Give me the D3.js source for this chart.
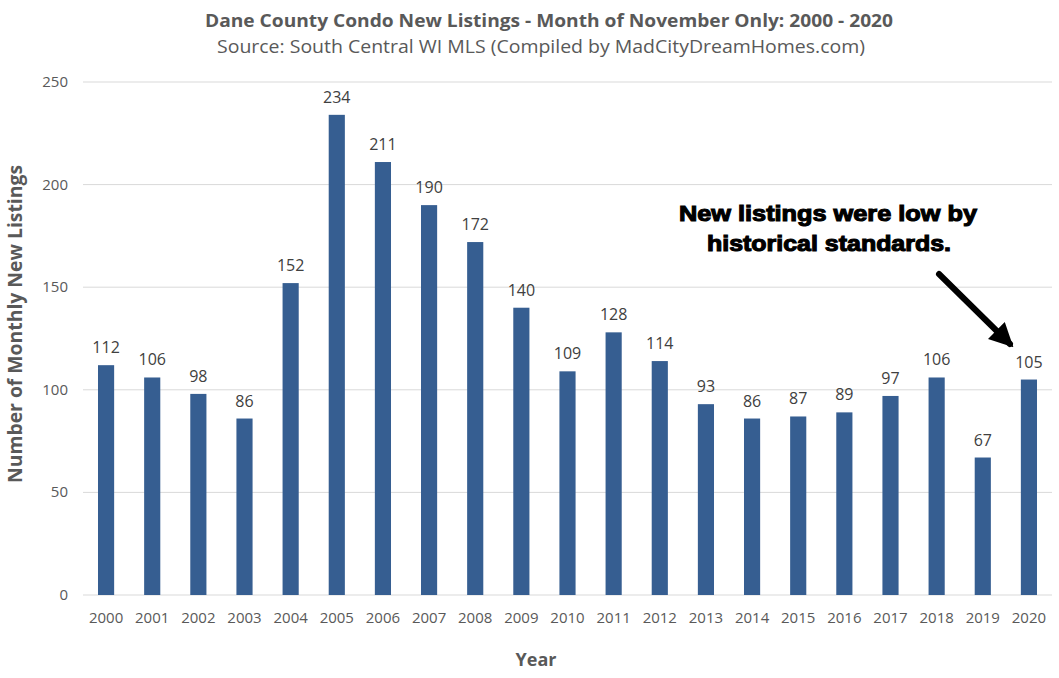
<!DOCTYPE html>
<html>
<head>
<meta charset="utf-8">
<script src="https://cdn.jsdelivr.net/npm/d3@7"></script>
<style>
  body { margin: 0; background: #fff; }
  svg { font-family: "Open Sans", "DejaVu Sans", sans-serif; }
</style>
</head>
<body>
<div id="chart"></div>
<script>
const years = ["2000","2001","2002","2003","2004","2005","2006","2007","2008","2009","2010",
               "2011","2012","2013","2014","2015","2016","2017","2018","2019","2020"];
const listings = [112,106,98,86,152,234,211,190,172,140,109,128,114,93,86,87,89,97,106,67,105];
const yTicks = [0,50,100,150,200,250];

const width = 1059, height = 678;
const margin = { top: 82, right: 7, bottom: 83, left: 83 };

const svg = d3.select("#chart").append("svg")
  .attr("width", width).attr("height", height);

const x = d3.scaleBand()
  .domain(years)
  .range([margin.left, width - margin.right])
  .paddingInner(0.65)
  .paddingOuter(0.325);

const y = d3.scaleLinear()
  .domain([0, 250])
  .range([height - margin.bottom, margin.top]);

// gridlines
svg.append("g")
  .selectAll("line")
  .data(yTicks)
  .join("line")
    .attr("x1", margin.left)
    .attr("x2", width - margin.right)
    .attr("y1", d => y(d))
    .attr("y2", d => y(d))
    .attr("stroke", "#d9d9d9")
    .attr("stroke-width", 1);

// y tick labels
svg.append("g")
  .selectAll("text")
  .data(yTicks)
  .join("text")
    .attr("x", 68)
    .attr("y", d => y(d) + 5)
    .attr("text-anchor", "end")
    .attr("font-size", "15px")
    .attr("fill", "#595959")
    .text(d => d);

// bars
svg.append("g")
  .selectAll("rect")
  .data(listings)
  .join("rect")
    .attr("x", (d, i) => x(years[i]))
    .attr("y", d => y(d))
    .attr("width", x.bandwidth())
    .attr("height", d => y(0) - y(d))
    .attr("fill", "#365e91");

// value labels
svg.append("g")
  .selectAll("text")
  .data(listings)
  .join("text")
    .attr("x", (d, i) => x(years[i]) + x.bandwidth() / 2)
    .attr("y", d => y(d) - 12)
    .attr("text-anchor", "middle")
    .attr("font-size", "16px")
    .attr("fill", "#404040")
    .text(d => d);

// x tick labels
svg.append("g")
  .selectAll("text")
  .data(years)
  .join("text")
    .attr("x", d => x(d) + x.bandwidth() / 2)
    .attr("y", y(0) + 28)
    .attr("text-anchor", "middle")
    .attr("font-size", "15px")
    .attr("fill", "#595959")
    .text(d => d);

// titles
svg.append("text")
  .attr("x", 549).attr("y", 27)
  .attr("text-anchor", "middle")
  .attr("font-size", "18px")
  .attr("font-weight", "bold")
  .attr("fill", "#595959")
  .attr("textLength", 688)
  .attr("lengthAdjust", "spacingAndGlyphs")
  .text("Dane County Condo New Listings - Month of November Only: 2000 - 2020");

svg.append("text")
  .attr("x", 541).attr("y", 53)
  .attr("text-anchor", "middle")
  .attr("font-size", "18px")
  .attr("fill", "#595959")
  .attr("textLength", 648)
  .attr("lengthAdjust", "spacingAndGlyphs")
  .text("Source: South Central WI MLS (Compiled by MadCityDreamHomes.com)");

// axis titles
svg.append("text")
  .attr("transform", "translate(22,324) rotate(-90)")
  .attr("text-anchor", "middle")
  .attr("font-size", "19px")
  .attr("font-weight", "bold")
  .attr("fill", "#595959")
  .attr("textLength", 318)
  .attr("lengthAdjust", "spacingAndGlyphs")
  .text("Number of Monthly New Listings");

svg.append("text")
  .attr("x", 536).attr("y", 666)
  .attr("text-anchor", "middle")
  .attr("font-size", "18px")
  .attr("font-weight", "bold")
  .attr("fill", "#595959")
  .text("Year");

// annotation
const note = svg.append("text")
  .attr("text-anchor", "middle")
  .style("font-family", "'Liberation Sans', Arial, sans-serif")
  .attr("font-size", "22px")
  .attr("font-weight", "bold")
  .attr("fill", "#000")
  .attr("stroke", "#000")
  .attr("stroke-width", 1.1);
note.append("tspan").attr("x", 828).attr("y", 221)
  .attr("textLength", 298).attr("lengthAdjust", "spacingAndGlyphs")
  .text("New listings were low by");
note.append("tspan").attr("x", 829).attr("y", 251)
  .attr("textLength", 244).attr("lengthAdjust", "spacingAndGlyphs")
  .text("historical standards.");

svg.append("defs").append("marker")
  .attr("id", "arrowhead")
  .attr("viewBox", "0 -5 10 10")
  .attr("refX", 8)
  .attr("refY", 0)
  .attr("markerWidth", 4)
  .attr("markerHeight", 4)
  .attr("orient", "auto")
  .append("path")
  .attr("d", "M0,-5L10,0L0,5Z")
  .attr("fill", "#000");

svg.append("line")
  .attr("x1", 939).attr("y1", 274)
  .attr("x2", 1010).attr("y2", 344)
  .attr("stroke", "#000")
  .attr("stroke-width", 6)
  .attr("stroke-linecap", "round")
  .attr("marker-end", "url(#arrowhead)");
</script>
</body>
</html>
